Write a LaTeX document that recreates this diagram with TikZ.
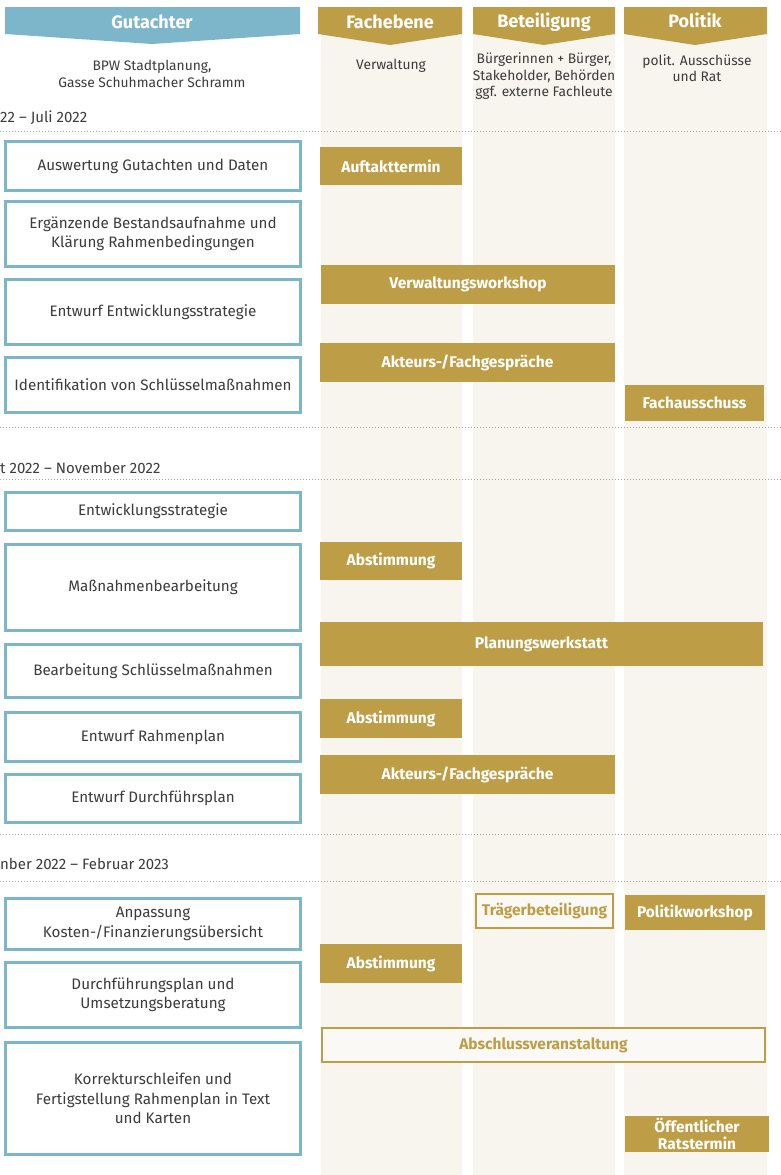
\documentclass[tikz,border=0pt]{standalone}
\usepackage{fontspec}
\setmainfont{Fira Sans}
\definecolor{gold}{HTML}{BD9E47}
\definecolor{lblue}{HTML}{7DB6CB}
\definecolor{beige}{HTML}{F8F5EE}
\definecolor{txt}{HTML}{3C3C3C}
\definecolor{dotc}{HTML}{A5A5A5}
\newcommand{\bx}[7]{\node[#2, minimum width={(#5-#3)*1pt}, minimum height={(#6-#4)*1pt}] (#1) at ({(#3+#5)/2},{(#4+#6)/2}) {#7};}
\begin{document}
\begin{tikzpicture}[x=1pt,y=-1pt,
  gbox/.style={draw=lblue, line width=3pt, fill=white, inner sep=0pt, align=center, text=txt, font=\fontsize{15.2}{19.5}\selectfont},
  ebox/.style={fill=gold, inner sep=0pt, align=center, text=white, font=\bfseries\fontsize{15.5}{17.5}\selectfont},
  obox/.style={draw=gold, line width=2pt, fill=beige!60!white, inner sep=0pt, align=center, text=gold, font=\bfseries\fontsize{15.5}{17.5}\selectfont},
  head/.style={text=white, font=\bfseries\fontsize{18}{21}\selectfont, inner sep=0pt},
  sub/.style={text=txt, align=center, font=\fontsize{13.8}{16.5}\selectfont, inner sep=0pt},
  period/.style={text=txt, anchor=west, inner sep=0pt, font=\fontsize{15}{17}\selectfont},
  dotline/.style={draw=dotc, line width=0.9pt, dash pattern=on 0.9pt off 2.1pt}
]
\useasboundingbox (0,0) rectangle (781,1175);
% column backgrounds
\fill[beige] (321,7) rectangle (462,1175);
\fill[beige] (473,7) rectangle (615,1175);
\fill[beige] (624,7) rectangle (767,1175);
% headers
\fill[lblue] (5,7) -- (300,7) -- (300,34) -- (152,44) -- (5,34) -- cycle;
\fill[gold] (318,7) -- (462,7) -- (462,34) -- (390,45) -- (318,34) -- cycle;
\fill[gold] (473,7) -- (615,7) -- (615,34) -- (544,45) -- (473,34) -- cycle;
\fill[gold] (624,7) -- (767,7) -- (767,34) -- (695,45) -- (624,34) -- cycle;
\node[head] (hg) at (152,22) {Gutachter};
\node[head] (hf) at (390,22) {Fachebene};
\node[head] (hb) at (544,22) {Beteiligung};
\node[head] (hp) at (695,20) {Politik};
\node[sub] (sg) at (152,74) {BPW Stadtplanung,\\Gasse Schuhmacher Schramm};
\node[sub] (sf) at (391,66) {Verwaltung};
\node[sub] (sb) at (544,76.5) {Bürgerinnen + Bürger,\\Stakeholder, Behörden\\ggf. externe Fachleute};
\node[sub] (sp) at (697,68) {polit. Ausschüsse\\und Rat};
% dotted separators
\draw[dotline] (0,131.5) -- (781,131.5);
\draw[dotline] (0,427.5) -- (781,427.5);
\draw[dotline] (0,479) -- (781,479);
\draw[dotline] (0,834.5) -- (781,834.5);
\draw[dotline] (0,881) -- (781,881);
% periods
\node[period] (p1) at (0,118) {22 – Juli 2022};
\node[period] (p2) at (0,468) {t 2022 – November 2022};
\node[period] (p3) at (0,864) {nber 2022 – Februar 2023};
% Gutachter boxes
\bx{g1}{gbox}{5.5}{141.5}{300.5}{190.5}{Auswertung Gutachten und Daten}
\bx{g2}{gbox}{5.5}{201.5}{300.5}{266.5}{Ergänzende Bestandsaufnahme und\\Klärung Rahmenbedingungen}
\bx{g3}{gbox}{5.5}{279.5}{300.5}{344.5}{Entwurf Entwicklungsstrategie}
\bx{g4}{gbox}{5.5}{357.5}{300.5}{412.5}{Identifikation von Schlüsselmaßnahmen}
\bx{g5}{gbox}{5.5}{492.5}{300.5}{530.5}{Entwicklungsstrategie}
\bx{g6}{gbox}{5.5}{544.5}{300.5}{630.5}{Maßnahmenbearbeitung}
\bx{g7}{gbox}{5.5}{644.5}{300.5}{697.5}{Bearbeitung Schlüsselmaßnahmen}
\bx{g8}{gbox}{5.5}{712.5}{300.5}{761.5}{Entwurf Rahmenplan}
\bx{g9}{gbox}{5.5}{774.5}{300.5}{822.5}{Entwurf Durchführsplan}
\bx{g10}{gbox}{5.5}{898.5}{300.5}{949.5}{Anpassung\\Kosten-/Finanzierungsübersicht}
\bx{g11}{gbox}{5.5}{962.5}{300.5}{1027.5}{Durchführungsplan und\\Umsetzungsberatung}
\bx{g12}{gbox}{5.5}{1042.5}{300.5}{1154.5}{Korrekturschleifen und\\Fertigstellung Rahmenplan in Text\\und Karten}
% event boxes
\bx{e1}{ebox}{320}{147}{462}{185}{Auftakttermin}
\bx{e2}{ebox}{321}{265}{615}{304}{Verwaltungsworkshop}
\bx{e3}{ebox}{320}{343}{615}{382}{Akteurs-/Fachgespräche}
\bx{e4}{ebox}{625}{385}{764}{421}{Fachausschuss}
\bx{e5}{ebox}{320}{542}{462}{580}{Abstimmung}
\bx{e6}{ebox}{320}{622}{763}{666}{Planungswerkstatt}
\bx{e7}{ebox}{320}{699}{462}{738}{Abstimmung}
\bx{e8}{ebox}{320}{755}{615}{794}{Akteurs-/Fachgespräche}
\bx{e9}{obox}{476}{894}{613}{928}{Trägerbeteiligung}
\bx{e10}{ebox}{625}{895}{765}{930}{Politikworkshop}
\bx{e11}{ebox}{320}{944}{462}{983}{Abstimmung}
\bx{e12}{obox}{322}{1028}{765}{1062}{Abschlussveranstaltung}
\bx{e13}{ebox}{625}{1116}{769}{1152}{Öffentlicher\\Ratstermin}
\end{tikzpicture}
\end{document}
